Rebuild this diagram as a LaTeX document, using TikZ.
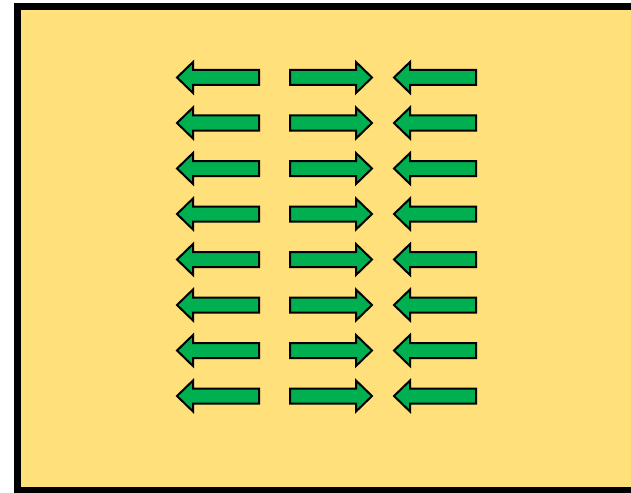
\documentclass[tikz,border=0pt]{standalone}
\definecolor{bgyellow}{RGB}{255,224,122}
\definecolor{arrgreen}{RGB}{0,176,80}
\tikzset{
  arrowshape/.style={fill=arrgreen,draw=black,line width=2pt,line join=miter},
  pics/larrow/.style={code={
    \path[arrowshape] (-41,0) -- (-25,-15.5) -- (-25,-7.5) -- (41,-7.5) -- (41,7.5) -- (-25,7.5) -- (-25,15.5) -- cycle;
  }},
  pics/rarrow/.style={code={
    \path[arrowshape] (41,0) -- (25,-15.5) -- (25,-7.5) -- (-41,-7.5) -- (-41,7.5) -- (25,7.5) -- (25,15.5) -- cycle;
  }}
}
\begin{document}
\begin{tikzpicture}[x=1pt,y=-1pt]
\useasboundingbox (0,0) rectangle (631,492);
\clip (0,0) rectangle (631,492);
\fill[white] (0,0) rectangle (631,492);
\draw[fill=bgyellow,line width=6.5pt] (17.5,6.5) rectangle (660,490.5);
\foreach \y in {77.5,123,168.5,214,259.5,305,350.5,396}{
  \pic at (218,\y) {larrow};
  \pic at (331,\y) {rarrow};
  \pic at (435,\y) {larrow};
}
\end{tikzpicture}
\end{document}
